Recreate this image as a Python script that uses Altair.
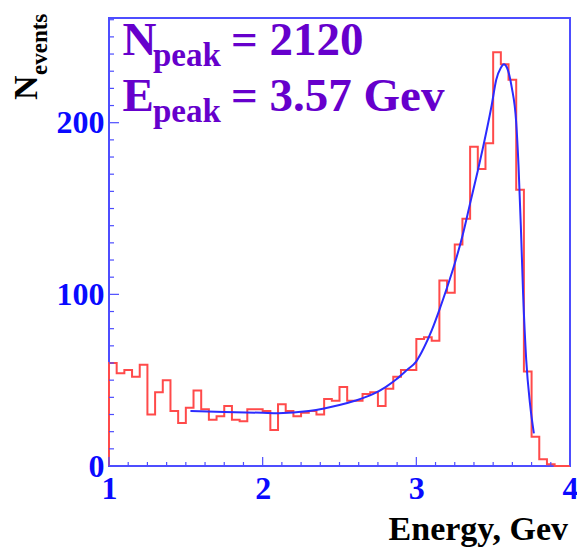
import altair as alt
import numpy as np
import pandas as pd

# Energy spectrum: 60 bins of 0.05 GeV from 1 to 4 GeV
bin_start = 1.0
bin_width = 0.05
counts = [60, 54, 56, 52, 59, 30, 43, 50, 32, 25,
          34, 44, 33, 27, 29, 35, 27, 26, 33, 33,
          32, 21, 36, 32, 29, 31, 32, 30, 39, 38,
          46, 38, 38, 42, 43, 35, 45, 52, 56, 56,
          74, 75, 73, 108, 101, 129, 144, 186, 173, 188,
          241, 234, 225, 161, 55, 17, 4, 1, 0, 0]

# Fitted curve (background + peak)
fit_e = [1.53, 1.75, 2.00, 2.10, 2.30, 2.40, 2.50, 2.60, 2.72, 2.80,
         2.87, 2.94, 3.00, 3.05, 3.10, 3.15, 3.20, 3.25, 3.30, 3.35,
         3.40, 3.435, 3.49, 3.52, 3.55, 3.57, 3.59, 3.62, 3.65, 3.665,
         3.68, 3.695, 3.715, 3.74, 3.765]
fit_n = [32.0, 31.5, 31.0, 30.8, 32.0, 33.5, 35.5, 38.0, 42.0, 46.0,
         50.5, 56.0, 61.0, 69.0, 79.0, 91.0, 104.0, 118.0, 134.0, 153.0,
         172.0, 186.0, 210.0, 225.0, 232.0, 234.0, 232.0, 221.0, 200.0, 175.0,
         140.0, 100.0, 62.0, 36.0, 19.0]

# Axis ticks and labels
x_labels = [1, 2, 3, 4]
y_labels = [0, 100, 200]
x_minor = [1 + 0.125 * k for k in range(25) if k % 8]
y_minor = [v for v in range(0, 261, 10) if v % 100]

W, H = 461, 448
FONT = "Liberation Serif"
FRAME = "#4d4dff"
LABEL_BLUE = "#0a0aff"
PURPLE = "#6600cc"
RED = "#ff4a4a"
FIT_BLUE = "#2b2bff"

xscale = alt.Scale(domain=[1, 4], nice=False, zero=False)
yscale = alt.Scale(domain=[0, 261], nice=False)

# Shared axis definitions (labels only; ticks are drawn inward as rules)
xaxis = alt.Axis(values=x_labels, format="d", ticks=False, domain=False,
                 grid=False, title=None, labelFont=FONT,
                 labelFontWeight="bold", labelFontSize=32,
                 labelColor=LABEL_BLUE, labelPadding=7,
                 labelOverlap=False, labelFlush=False)
yaxis = alt.Axis(values=y_labels, format="d", ticks=False, domain=False,
                 grid=False, title=None, labelFont=FONT,
                 labelFontWeight="bold", labelFontSize=32,
                 labelColor=LABEL_BLUE, labelPadding=5,
                 labelOverlap=False)

# Step outline of the histogram, closed down to zero at both ends
edges = bin_start + bin_width * np.arange(len(counts) + 1)
step_x = [edges[0]] + list(edges[:-1]) + [edges[-1]]
step_y = [0] + counts + [0]
hist_df = pd.DataFrame({"E": step_x, "N": step_y, "i": range(len(step_x))})
fit_df = pd.DataFrame({"E": fit_e, "N": fit_n})

hist = alt.Chart(hist_df).mark_line(
    interpolate="step-after", color=RED, strokeWidth=2
).encode(
    x=alt.X("E:Q", scale=xscale, axis=xaxis),
    y=alt.Y("N:Q", scale=yscale, axis=yaxis),
    order="i:Q",
)

fit = alt.Chart(fit_df).mark_line(
    interpolate="monotone", color=FIT_BLUE, strokeWidth=2
).encode(
    x=alt.X("E:Q", scale=xscale, axis=xaxis),
    y=alt.Y("N:Q", scale=yscale, axis=yaxis),
)


def yticks(values, length):
    return alt.Chart(pd.DataFrame({"E": [1] * len(values), "N": values})).mark_rule(
        color=FRAME, strokeWidth=1.2
    ).encode(
        y=alt.Y("N:Q", scale=yscale, axis=yaxis),
        x=alt.value(0), x2=alt.value(length),
    )


def xticks(values, length):
    return alt.Chart(pd.DataFrame({"E": values})).mark_rule(
        color=FRAME, strokeWidth=1.2
    ).encode(
        x=alt.X("E:Q", scale=xscale, axis=xaxis),
        y=alt.value(H), y2=alt.value(H - length),
    )


one = pd.DataFrame({"k": [0]})


def label(text, x, y, size, color="black", angle=0, align="left"):
    return alt.Chart(one).mark_text(
        text=text, font=FONT, fontWeight="bold", fontSize=size, color=color,
        align=align, baseline="alphabetic", angle=angle,
    ).encode(x=alt.value(x), y=alt.value(y))


texts = [
    label("N", 13.5, 36.5, 47, PURPLE),
    label("peak", 44, 47.5, 33, PURPLE),
    label("= 2120", 122, 36.5, 47, PURPLE),
    label("E", 13.5, 93, 47, PURPLE),
    label("peak", 44, 104, 33, PURPLE),
    label("= 3.57 Gev", 122, 93, 47, PURPLE),
    label("Energy, Gev", 459, 522, 34, align="right"),
    label("N", -72, 82, 34, angle=270),
    label("events", -62, 57, 23, angle=270),
]

chart = alt.layer(
    hist, fit,
    yticks(y_minor, 5), yticks(y_labels, 10),
    xticks(x_minor, 4), xticks(x_labels, 9),
    *texts,
).properties(
    width=W, height=H,
    autosize=alt.AutoSizeParams(type="none"),
    padding={"left": 109, "top": 18, "right": 7, "bottom": 86},
).configure_view(
    stroke=FRAME, strokeWidth=2
)

chart.save("out.html", embed_options={"renderer": "svg", "actions": False})
